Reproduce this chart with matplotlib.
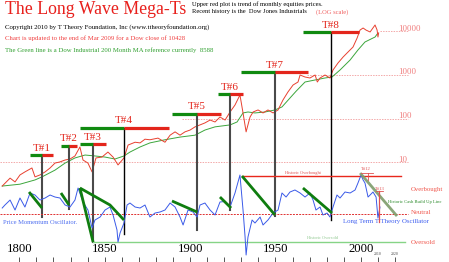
import matplotlib
matplotlib.use('Agg')
import matplotlib.pyplot as plt

plt.rcParams['font.family'] = ['Liberation Serif', 'DejaVu Serif']

W, H = 449, 262

# Upper red plot: monthly equities trend (log scale)
price_years = [1790, 1794.6, 1797.5, 1800.4, 1803.3, 1807.4, 1809.2, 1812.1, 1815.1,
               1818.0, 1820.9, 1823.8, 1826.8, 1829.7, 1832.6, 1835.5, 1837.3, 1840.2,
               1842.6, 1844.9, 1848.4, 1851.9, 1854.9, 1857.8, 1861.3, 1863.7, 1867.8,
               1870.7, 1873.6, 1876.5, 1881.2, 1885.3, 1888.3, 1891.2, 1894.1, 1897.0,
               1900.0, 1902.9, 1905.8, 1908.7, 1911.7, 1914.6, 1917.5, 1920.5, 1923.4,
               1926.3, 1929.2, 1931.0, 1932.8, 1935.1, 1936.9, 1939.8, 1942.7, 1945.6,
               1948.6, 1951.5, 1954.4, 1957.3, 1960.3, 1963.2, 1964.4, 1967.3, 1970.2,
               1973.2, 1974.5, 1976.1, 1979.0, 1981.9, 1983.7, 1986.6, 1989.6, 1992.5,
               1995.4, 1997.8, 1999.5, 2001.3, 2003.0, 2005.4, 2008.3, 2009.5, 2010.0,
               2010.4]
price_vals = [2.9, 4.4, 3.6, 5.2, 6.1, 7.5, 4.7, 5.2, 6.1,
              7.5, 9.7, 10.3, 11.4, 12.0, 14.1, 22.6, 11.4, 9.7,
              6.1, 12.7, 13.3, 17.3, 13.3, 8.8, 12.7, 25, 29,
              28, 34, 33, 36, 29, 42, 50, 42, 50,
              55, 65, 72, 80, 93, 84, 109, 93, 142,
              205, 347, 135, 50, 109, 142, 158, 135, 158,
              135, 158, 267, 406, 586, 686, 991, 892, 847,
              991, 686, 847, 991, 847, 1290, 1860, 2550, 3320,
              4310, 6920, 10500, 11700, 10500, 9490, 13700, 10500, 7290,
              9000]

# Green line: 200 month moving average
ma_years = [1790, 1800.4, 1809.2, 1813.3, 1820.9, 1826.8, 1832.6, 1838.5, 1844.3, 1850.2,
            1856.0, 1861.3, 1864.8, 1870.7, 1876.5, 1885.3, 1894.1, 1902.9, 1908.7, 1914.6,
            1923.4, 1927.5, 1931.0, 1933.9, 1938.0, 1943.9, 1949.7, 1953.8, 1958.5, 1962.0,
            1967.3, 1973.2, 1979.0, 1983.1, 1987.8, 1993.7, 1998.3, 2002.4, 2008.3, 2010.0]
ma_vals = [2.9, 3.2, 4.0, 4.7, 6.7, 9.7, 12.7, 14.8, 14.1, 13.3,
           12.0, 14.1, 17.3, 22.6, 28, 33, 38, 42, 55, 65,
           72, 84, 135, 142, 135, 142, 158, 185, 296, 420,
           686, 763, 847, 892, 1290, 2180, 3690, 5610, 7290, 9000]

# Blue oscillator (neutral = 0, historic overbought = 100)
osc_years = [1790, 1791.6, 1794.6, 1797.5, 1800.4, 1803.3, 1806.3, 1809.2, 1812.1, 1815.1,
             1818.0, 1820.9, 1823.8, 1826.8, 1829.7, 1832.6, 1834.4, 1837.3, 1840.2, 1842.6,
             1844.3, 1847.3, 1850.2, 1853.1, 1854.9, 1857.2, 1857.8, 1859.0, 1861.3, 1863.1,
             1864.8, 1867.8, 1870.7, 1873.6, 1876.5, 1879.5, 1882.4, 1885.3, 1888.3, 1891.2,
             1894.1, 1895.9, 1898.8, 1901.7, 1904.1, 1905.8, 1908.7, 1911.7, 1914.6, 1917.5,
             1920.5, 1923.4, 1926.3, 1929.2, 1931.0, 1932.2, 1932.8, 1933.9, 1936.3, 1938.0,
             1941.0, 1942.7, 1945.6, 1948.6, 1951.5, 1953.8, 1956.2, 1958.5, 1961.4, 1964.4,
             1967.3, 1970.2, 1972.0, 1973.7, 1976.1, 1977.8, 1980.2, 1981.9, 1983.7, 1986.0,
             1987.8, 1990.7, 1993.7, 1996.6, 1998.3, 2000.1, 2001.3, 2002.4, 2004.2, 2005.4,
             2007.1, 2008.9, 2010.0, 2011.2]
osc_vals = [15.8, 23.7, 36.8, 10.5, 42.1, 18.4, 55.3, 50, 36.8, 42.1,
            50, 44.7, 42.1, 23.7, 18.4, 36.8, 68.4, 31.6, 10.5, -36.8,
            -15.8, -7.9, 10.5, 18.4, -2.6, -42.1, -73.7, -50, -23.7, 23.7,
            28.9, 18.4, 15.8, 23.7, -7.9, 2.6, 5.3, 10.5, 28.9, 18.4,
            -7.9, -28.9, 10.5, 5.3, -7.9, 23.7, 28.9, 10.5, -2.6, 31.6,
            33, 18.4, 55.3, 102.6, 10.5, -60.5, -107.9, -60.5, -15.8, -23.7,
            -7.9, -28.9, -15.8, 2.6, 10.5, 55.3, 44.7, 57.9, 63.2, 55.3,
            44.7, 55.3, 36.8, 10.5, 18.4, -2.6, 2.6, -7.9, 18.4, 50,
            42.1, 57.9, 55.3, 63.2, 81.6, 102.6, 89.5, 81.6, 44.7, 50,
            57.9, 44.7, -10.5, 18.4]

# The Mega-T markers
t_names = ['T#1', 'T#2', 'T#3', 'T#4', 'T#5', 'T#6', 'T#7', 'T#8']
t_center = [1813.3, 1829.1, 1843.2, 1861.3, 1904.1, 1923.4, 1949.7, 1982.5]
t_left = [1806.3, 1824.4, 1835.5, 1835.5, 1889.4, 1916.3, 1929.8, 1966.1]
t_right = [1819.8, 1833.8, 1850.8, 1887.4, 1918.1, 1931.0, 1969.1, 1998.9]
t_level = [14.5, 24.3, 26.8, 62.4, 130, 370, 1170, 9490]
t_bottom = [-8, 13, -74, -53, -42, 10, -5, -16]
t_dark = [False, False, False, True, False, False, False, True]

# Green trend lines on the oscillator
trend_x = [[1805.7, 1813.3], [1824.4, 1829.1], [1835.5, 1843.2],
           [1835.5, 1853.1, 1861.3], [1889.4, 1904.1], [1917.5, 1924.0],
           [1930.4, 1949.7], [1966.1, 1983.1]]
trend_y = [[57.9, 15.8], [55.3, 23.7], [68.4, -73.7],
           [68.4, 23.7, -15.8], [34.2, 5.3], [44.7, 15.8],
           [100, -2.6], [68.4, 2.6]]
cash_x = [2000.1, 2020.6]
cash_y = [105, -2.6]

overbought, neutral, oversold = 100, 0, -74
levels = [10, 100, 1000, 10000]
level_start = [1788.7, 1895.3, 1968.5, 2011.2]
level_end = 2027.6

decades = list(range(1800, 2021, 10))
big_years = [1800, 1850, 1900, 1950, 2000]

fig = plt.figure(figsize=(W / 100, H / 100), dpi=100)
ax = fig.add_axes([0, 0, 1, 1])
ax.set_yscale('log')
ax.set_xlim(1788.7, 2051.6)
ax.set_ylim(10 ** -1.27, 10 ** 4.707)
ax2 = ax.twinx()
ax2.set_ylim(-126.3, 563.2)
for a in (ax, ax2):
    a.set_axis_off()

red = '#e3251b'
green = '#108a10'

# price scale reference lines
for lv, x0 in zip(levels, level_start):
    ax.plot([x0, level_end], [lv, lv], ls=(0, (1.5, 1.2)), color='#f3a9a9', lw=0.7)
    ax.text(2021.8, lv * 1.02, f'{lv}', color='#f07c7c', fontsize=6.3,
            ha='left', va='baseline')

ax.plot(ma_years, ma_vals, color='#3ca63c', lw=0.7)
ax.plot(price_years, price_vals, color='#e8402f', lw=0.7)

# oscillator area
ax2.plot([1788.7, 2027.6], [neutral, neutral], ls=(0, (2, 1.2)), color='#e03030', lw=0.7)
ax2.plot([1930.4, 2023.5], [overbought, overbought], color='#e8281c', lw=1.0)
ax2.plot([1843.2, 2025.9], [oversold, oversold], color='#86d486', lw=1.0)
ax2.plot(osc_years, osc_vals, color='#3a5ae8', lw=0.7)
for xs, ys in zip(trend_x, trend_y):
    ax2.plot(xs, ys, color='#0f7d0f', lw=2.0, solid_capstyle='butt')
ax2.plot(cash_x, cash_y, color='#7d9c6b', lw=2.0, alpha=0.9)

# T#12 / T#13 small markers
ax2.plot([2000.1, 2007.1], [108, 108], color='#e05050', lw=0.6)
ax2.plot([2004.2, 2004.2], [108, 89], color='#e05050', lw=0.6)
ax2.plot([2008.9, 2013.0], [60.5, 60.5], color='#e05050', lw=0.6)
ax2.plot([2010.6, 2010.6], [60.5, -21], color='#e05050', lw=0.9)

# Mega-T bars and stems
for name, xc, xl, xr, lv, vb, dark in zip(t_names, t_center, t_left, t_right,
                                           t_level, t_bottom, t_dark):
    disp = ax2.transData.transform((xc, vb))
    pb = ax.transData.inverted().transform(disp)[1]
    ax.plot([xc, xc], [lv, pb], color='black' if dark else '#4a4a4a',
            lw=1.0 if dark else 1.5, zorder=3)
    ax.plot([xl, xc], [lv, lv], color=green, lw=2.3, solid_capstyle='butt', zorder=4)
    ax.plot([xc, xr], [lv, lv], color=red, lw=2.3, solid_capstyle='butt', zorder=4)
    ax.annotate(name, (xc, lv), xytext=(0, 3), textcoords='offset points',
                ha='center', va='baseline', color=red, fontsize=8)

# decade ticks and year labels along the bottom
xt = ax.get_xaxis_transform()
ax.vlines(decades, 0, 5.5 / H, transform=xt, color='#555555', lw=0.7)
for y in big_years:
    ax.text(y, 9.5 / H, str(y), transform=xt, ha='center', va='baseline',
            fontsize=9.2, color='black')
for y in (2010, 2020):
    ax.text(y, 7 / H, str(y), transform=xt, ha='center', va='baseline',
            fontsize=2.8, color='#444444')


def ftext(px, py, s, **kw):
    fig.text(px / W, 1 - py / H, s, **kw)


ftext(5, 1, 'The Long Wave Mega-Ts', color='#e8201c', fontsize=12.8, va='top')
ftext(192, 4, 'Upper red plot is trend of monthly equities prices.',
      fontsize=4.7, va='center')
ftext(192, 12, 'Recent history is the  Dow Jones Industrials', fontsize=4.7, va='center')
ftext(316, 12, '(LOG scale)', fontsize=4.7, va='center', color='#f06060')
ftext(5, 27, 'Copyright 2010 by T Theory Foundation, Inc (www.ttheoryfoundation.org)',
      fontsize=4.85, va='center')
ftext(5, 38, 'Chart is updated to the end of Mar 2009 for a Dow close of 10428',
      fontsize=4.85, va='center', color='#f04040')
ftext(5, 50, 'The Green line is a Dow Industrial 200 Month MA reference currently  8588',
      fontsize=4.85, va='center', color='#30a030')

ftext(3, 222, 'Price Momentum Oscillator.', fontsize=4.65, va='center', color='#5070f0')
ftext(343, 222, 'Long Term T Theory Oscillator', fontsize=4.95, va='center', color='#4060f0')
ftext(285, 173, 'Historic Overbought', fontsize=3.2, va='center', color='#e05050')
ftext(307, 238, 'Historic Oversold', fontsize=3.2, va='center', color='#90c890')
ftext(388, 202, 'Historic Cash Build Up Line', fontsize=3.3, va='center', color='#2a8a2a')
ftext(361, 169, 'T#12', fontsize=3.3, va='center', color='#e05050')
ftext(375, 189, 'T#13', fontsize=3.3, va='center', color='#e05050')
ftext(411, 189, 'Overbought', fontsize=4.9, va='center', color='#f05a50')
ftext(411, 212, 'Neutral', fontsize=4.9, va='center', color='#f05a50')
ftext(411, 242, 'Oversold', fontsize=4.9, va='center', color='#f05a50')

fig.savefig('out.png', dpi=100)
